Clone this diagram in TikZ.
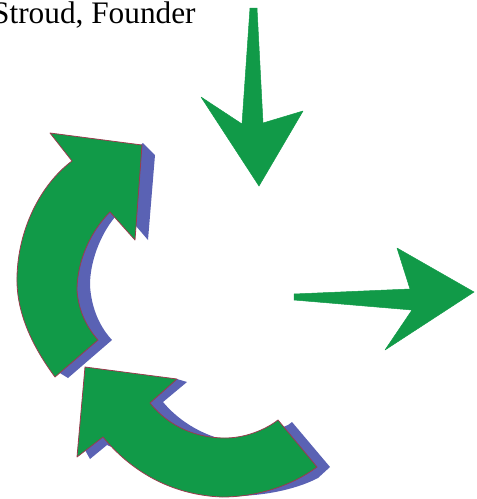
\documentclass[tikz,border=0pt]{standalone}
\usepackage{fontspec}
\setmainfont{Liberation Serif}
\definecolor{arrowgreen}{HTML}{119A48}
\definecolor{shadowblue}{HTML}{5A62B4}
\definecolor{edgered}{HTML}{9A3B4E}
\tikzset{
  flat/.style={fill=arrowgreen,draw=arrowgreen,line width=0.5pt,line join=round},
  curved/.style={fill=arrowgreen,draw=edgered,line width=0.8pt,line join=round},
  shade/.style={fill=shadowblue,draw=none}
}
\begin{document}
\begin{tikzpicture}[x=1pt,y=-1pt]
\useasboundingbox (0,0) rectangle (477,499);
\node[anchor=base west,inner sep=0pt,font=\fontsize{31.3}{33}\selectfont] (title) at (-8,23) {Stroud, Founder};
% flat arrows
\fill[flat] (250,8) -- (257,8) -- (263,123) -- (303,111) -- (259,186) -- (201,97) -- (242,124) -- cycle;
\fill[flat] (294,294) -- (410,289) -- (397,248) -- (474,292) -- (385,350) -- (412,310) -- (294,300) -- cycle;
% upper curved arrow
\fill[shade] (143,143) -- (155,155) -- (148,240) -- (136,226) -- (115,217)
  .. controls (100,235) and (90,262) .. (90,285)
  .. controls (91,305) and (98,325) .. (112,340) -- (68,378) -- (55,370) -- (60,300) -- (100,180) -- cycle;
\draw[curved] (50,133) -- (142,145) -- (135,240) -- (110,212)
  .. controls (90,232) and (77,262) .. (77,290)
  .. controls (78,305) and (83,323) .. (98,340) -- (55,377)
  .. controls (35,350) and (16,315) .. (17,277)
  .. controls (18,230) and (40,185) .. (72,161) -- cycle;
% lower curved arrow
\fill[shade] (187,382) -- (163,402) .. controls (178,420) and (200,434) .. (225,440)
  -- (240,445) -- (288,425) -- (292,422) -- (330,467) -- (318,478) .. controls (295,490) and (260,497) .. (225,496)
  -- (107,445) -- (90,459) -- (85,450) -- (150,395) -- (177,379) -- cycle;
\draw[curved] (85,367) -- (177,379) -- (150,403)
  .. controls (170,428) and (198,438) .. (225,438)
  .. controls (245,438) and (265,430) .. (278,420) -- (317,467)
  .. controls (290,487) and (255,497) .. (222,497)
  .. controls (170,495) and (130,470) .. (103,437) -- (77,457) -- cycle;
\end{tikzpicture}
\end{document}
